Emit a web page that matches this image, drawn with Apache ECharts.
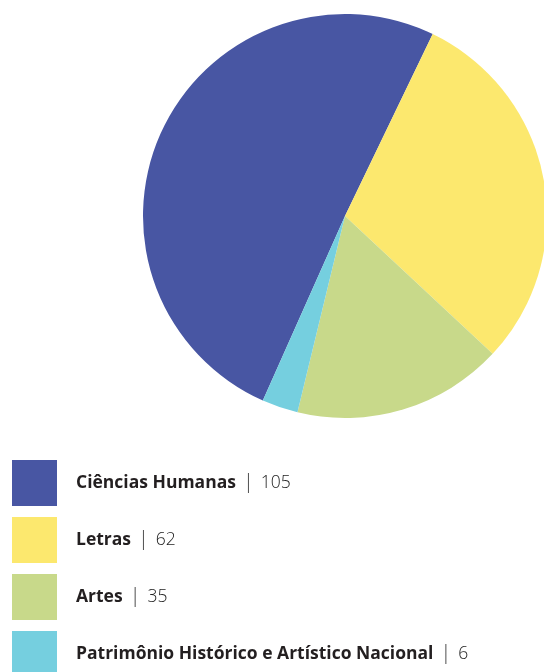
<!DOCTYPE html>
<html>
<head>
<meta charset="utf-8">
<script src="https://cdn.jsdelivr.net/npm/echarts@6/dist/echarts.min.js"></script>
<style>
html,body{margin:0;padding:0;background:#fff;}
#chart{width:544px;height:672px;}
</style>
</head>
<body>
<div id="chart"></div>
<script>
const categories = ['Ciências Humanas', 'Letras', 'Artes', 'Patrimônio Histórico e Artístico Nacional'];
const values = [105, 62, 35, 6];
const colors = ['#4856a3', '#fce86e', '#c8d98a', '#75cfdf'];

const chart = echarts.init(document.getElementById('chart'));
chart.setOption({
  animation: false,
  color: colors,
  legend: {
    orient: 'vertical',
    left: 12,
    top: 460,
    height: 400,
    padding: 0,
    itemWidth: 45,
    itemHeight: 46,
    itemGap: 11,
    icon: 'rect',
    selectedMode: false,
    data: categories,
    formatter: function (name) {
      const i = categories.indexOf(name);
      return '{b|' + name + '}{s||}{v|' + values[i] + '}';
    },
    textStyle: {
      padding: [0, 0, 0, 14],
      rich: {
        b: { fontFamily: 'Open Sans', fontWeight: 'bold', fontSize: 17.5, color: '#231f20' },
        s: { fontFamily: 'Open Sans', fontWeight: 300, fontSize: 20, color: '#333', padding: [0, 7, 2, 7] },
        v: { fontFamily: 'Open Sans', fontWeight: 300, fontSize: 17.5, color: '#222' }
      }
    }
  },
  series: [{
    type: 'pie',
    center: [345, 216],
    radius: 202,
    startAngle: 246,
    clockwise: true,
    label: { show: false },
    labelLine: { show: false },
    silent: true,
    itemStyle: { borderWidth: 0 },
    data: categories.map((c, i) => ({ name: c, value: values[i] }))
  }]
});
</script>
</body>
</html>
